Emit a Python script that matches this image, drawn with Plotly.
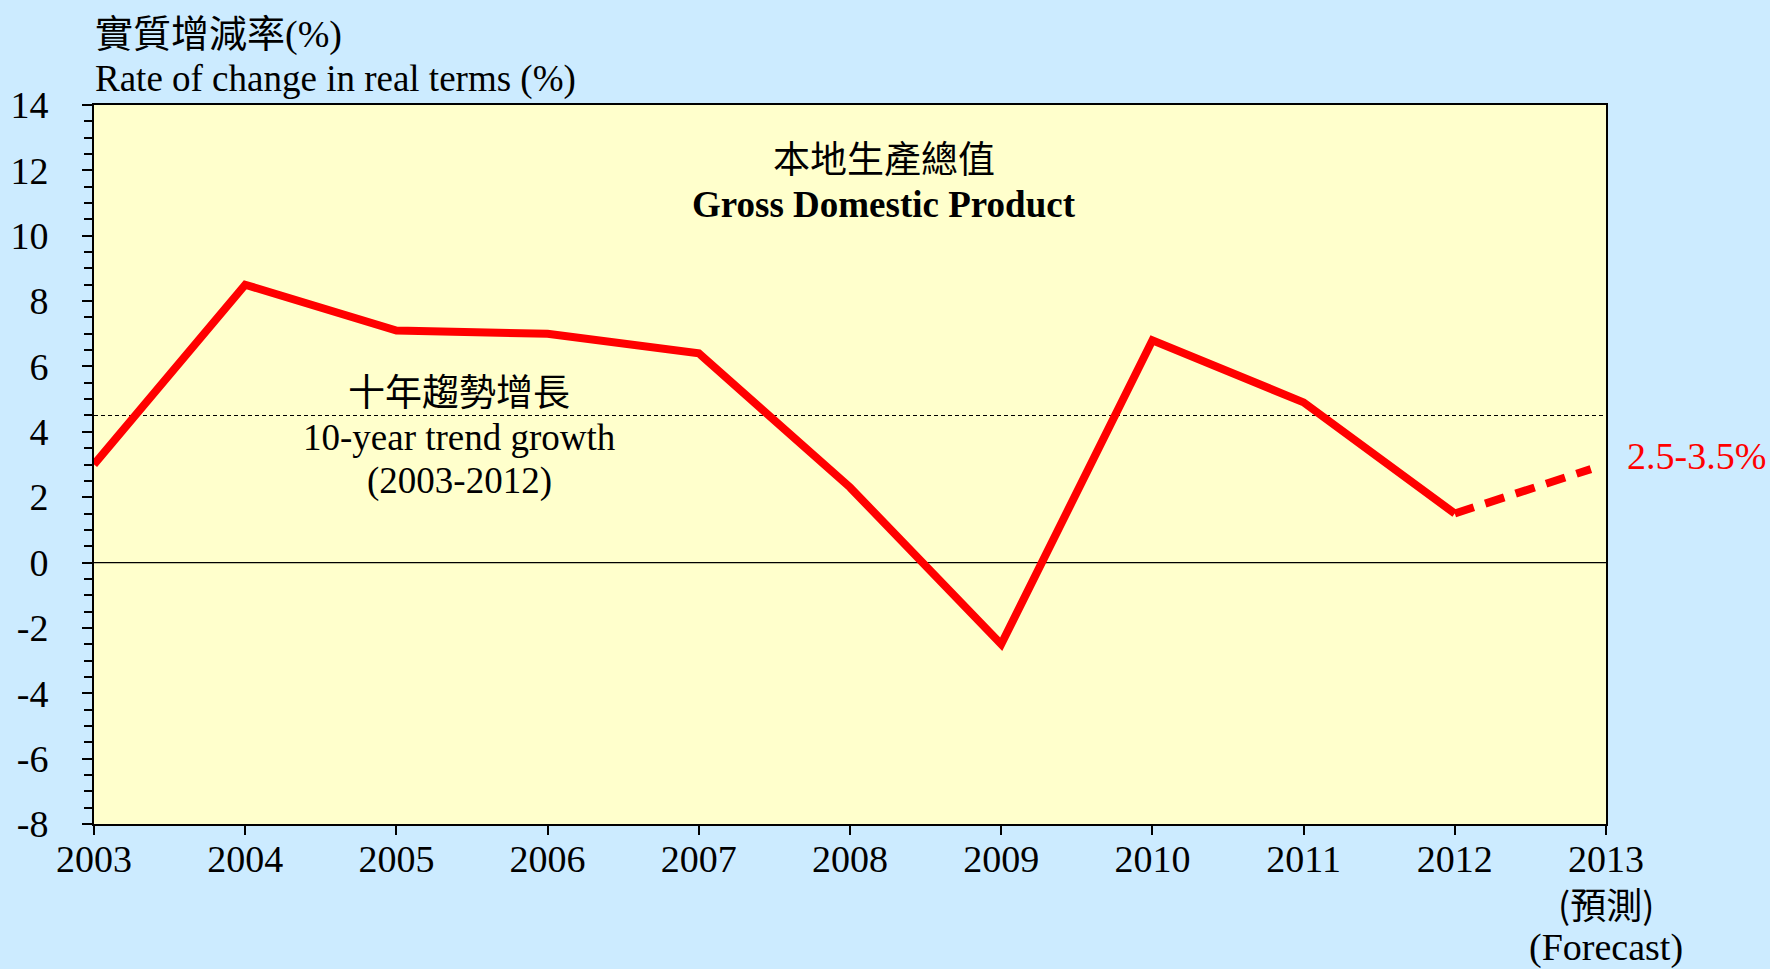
import plotly.graph_objects as go

years = [2003, 2004, 2005, 2006, 2007, 2008, 2009, 2010, 2011, 2012]
gdp_growth = [3.0, 8.5, 7.1, 7.0, 6.4, 2.3, -2.5, 6.8, 4.9, 1.5]
forecast_years = [2012, 2012.9]
forecast_values = [1.5, 2.86]
trend_growth = 4.5
x_ticks = [2003, 2004, 2005, 2006, 2007, 2008, 2009, 2010, 2011, 2012, 2013]
x_tick_labels = ["2003", "2004", "2005", "2006", "2007", "2008", "2009", "2010",
                 "2011", "2012", "2013"]
forecast_label_zh = "(預測)"
forecast_label_en = "(Forecast)"
y_ticks = [-8, -6, -4, -2, 0, 2, 4, 6, 8, 10, 12, 14]
y_tick_labels = ["-8", "-6", "-4", "-2", "0", "2", "4", "6", "8", "10", "12", "14"]

W, H = 1770, 969
L, R, T, B = 94, 1606, 105, 824
SERIF = "Liberation Serif, Times New Roman, Noto Sans CJK TC"
CJK = "Noto Sans CJK TC, Liberation Serif"


def px(x):
    return (x - L) / (R - L)


def py(y):
    return (B - y) / (B - T)


fig = go.Figure()

# trend line
fig.add_trace(go.Scatter(x=[2003, 2013], y=[trend_growth, trend_growth], mode="lines",
                         line=dict(color="black", width=1.2, dash="4px,3px"),
                         hoverinfo="skip", showlegend=False))
# zero line
fig.add_trace(go.Scatter(x=[2003, 2013], y=[0, 0], mode="lines",
                         line=dict(color="black", width=1.3),
                         hoverinfo="skip", showlegend=False))
fig.add_trace(go.Scatter(x=years, y=gdp_growth, mode="lines",
                         line=dict(color="#FF0000", width=8), showlegend=False))
fig.add_trace(go.Scatter(x=forecast_years, y=forecast_values, mode="lines",
                         line=dict(color="#FF0000", width=8, dash="20px,12px"),
                         showlegend=False))

ann = []


def add_text(x, y, text, size, family=SERIF, color="black", xanchor="center"):
    ann.append(dict(x=px(x), y=py(y), xref="paper", yref="paper", text=text,
                    showarrow=False, xanchor=xanchor, yanchor="middle",
                    font=dict(family=family, size=size, color=color)))


add_text(93, 30, "實質增減率<span style=\"font-family:'Liberation Serif'\">(%)</span>",
         38, family=CJK, xanchor="left")
add_text(93, 79, "Rate of change in real terms (%)", 37, xanchor="left")
add_text(884, 157, "本地生產總值", 37, family=CJK)
add_text(884, 204, "<b>Gross Domestic Product</b>", 37)
add_text(459, 390, "十年趨勢增長", 37, family=CJK)
add_text(459, 437, "10-year trend growth", 37)
add_text(459, 481, "(2003-2012)", 37)
add_text(1625, 456, "2.5-3.5%", 38, color="#FF0000", xanchor="left")

# forecast sub-labels under the 2013 tick
for label, ypix, fam in [(forecast_label_zh, 903, CJK), (forecast_label_en, 947, SERIF)]:
    ann.append(dict(x=x_ticks[-1], xref="x", y=py(ypix), yref="paper", text=label,
                    showarrow=False, xanchor="center", yanchor="middle",
                    font=dict(family=fam, size=36 if fam == CJK else 38, color="black")))

fig.update_layout(
    width=W, height=H,
    margin=dict(l=L, r=W - R, t=T, b=H - B, autoexpand=False),
    paper_bgcolor="#CCEBFF",
    plot_bgcolor="#FFFFCC",
    annotations=ann,
    showlegend=False,
)
fig.update_xaxes(range=[2003, 2013], tickvals=x_ticks, ticktext=x_tick_labels,
                 showgrid=False, zeroline=False, showline=True, mirror=True,
                 linecolor="black", linewidth=2, ticks="", automargin=False,
                 minor=dict(tickvals=x_ticks, ticks="outside", ticklen=9,
                            tickwidth=2, tickcolor="black", showgrid=False),
                 tickfont=dict(family=SERIF, size=38, color="black"))
fig.update_yaxes(range=[-8, 14], tickvals=y_ticks, ticktext=y_tick_labels,
                 showgrid=False, zeroline=False, automargin=False,
                 showline=True, mirror=True, linecolor="black", linewidth=2,
                 ticks="outside", ticklen=10, tickwidth=2, tickcolor="black",
                 ticklabelstandoff=26,
                 minor=dict(dtick=0.5, tick0=0, ticks="outside", ticklen=8,
                            tickwidth=2, tickcolor="black"),
                 tickfont=dict(family=SERIF, size=38, color="black"))

fig.write_html("out.html", config={"displayModeBar": False},
               post_script="document.body.style.margin='0';document.body.style.overflow='hidden';")
